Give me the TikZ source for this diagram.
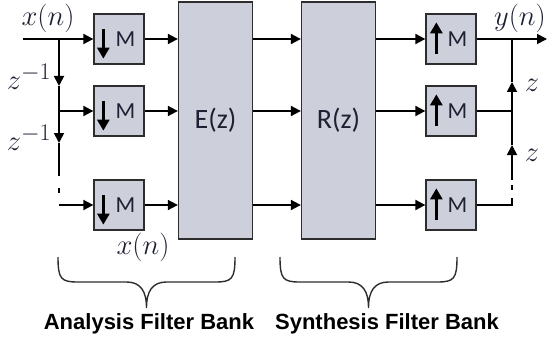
\documentclass[tikz,border=0pt]{standalone}
\usepackage{fontspec}
\newfontfamily\boxfont{Carlito}
\newfontfamily\labelfont{Liberation Sans}
\usetikzlibrary{arrows.meta}
\definecolor{boxfill}{RGB}{205,208,218}
\definecolor{boxline}{RGB}{45,45,45}
\definecolor{ink}{RGB}{30,32,52}
\newcommand{\sigvar}[1]{\scalebox{1.15}{$#1$}}

\begin{document}
\begin{tikzpicture}[x=1pt, y=-1pt]
        \tikzstyle{rate}=[draw=boxline, line width=1.3pt, fill=boxfill, minimum width=50pt, minimum height=50pt, inner sep=0pt, text=ink, font=\boxfont\fontsize{23}{23}\selectfont]
        \tikzstyle{bank}=[draw=boxline, line width=1.3pt, fill=boxfill, minimum width=74pt, minimum height=237pt, inner sep=0pt, text=ink, font=\boxfont\fontsize{28}{28}\selectfont]
        \tikzstyle{wire}=[line width=1.8pt]
        \tikzstyle{sig}=[wire, -{Triangle[length=10pt, width=10pt]}]
        \tikzstyle{tick}=[line width=2.6pt, -{Triangle[length=11pt, width=12pt]}]
        \tikzstyle{var}=[text=ink, inner sep=0pt, font=\fontsize{24.88}{25}\selectfont]
        \tikzstyle{title}=[font=\labelfont\bfseries\fontsize{22}{22}\selectfont]

        \useasboundingbox (0,0) rectangle (553,342);

        \foreach \r/\y in {1/39, 2/111, 3/205} {
            \node[rate] (d\r) at (119,\y) {\hspace*{13pt}M};
            \node[rate] (u\r) at (451,\y) {\hspace*{13pt}M};
            \draw[tick] ([xshift=10pt, yshift=-16pt]d\r.north west) -- ([xshift=10pt, yshift=6pt]d\r.south west);
            \draw[tick] ([xshift=11pt, yshift=11pt]u\r.south west) -- ([xshift=11pt, yshift=-9pt]u\r.north west);
        }
        \node[bank] (E) at (215.5,120.5) {E(z)};
        \node[bank] (R) at (338.5,120.5) {R(z)};

        \coordinate (in)   at (23,39);
        \coordinate (out)  at (547,39);
        \coordinate (tapA) at (59,39);
        \coordinate (tapB) at (59,111);
        \coordinate (tapC) at (59,205);
        \coordinate (la)   at (59,86);
        \coordinate (lb)   at (59,143);
        \coordinate (lc)   at (59,176);
        \coordinate (sumA) at (512,39);
        \coordinate (sumB) at (512,111);
        \coordinate (sumC) at (512,205);
        \coordinate (ra)   at (512,82);
        \coordinate (rb)   at (512,145);
        \coordinate (rc)   at (512,180);

        \draw[sig] (in) -- (d1);
        \draw[sig] (tapB) -- (d2);
        \draw[sig] (tapC) -- (d3);
        \draw[sig] (tapA) -- (la);
        \draw[wire] (la) -- (tapB);
        \draw[sig] (tapB) -- (lb);
        \draw[wire] (lb) -- (lc);
        \draw[wire] (59,188) -- (59,193);

        \foreach \r in {1,2,3} {
            \draw[sig] (d\r) -- (d\r -| E.west);
            \draw[sig] (d\r -| E.east) -- (d\r -| R.west);
            \draw[sig] (d\r -| R.east) -- (u\r);
        }

        \draw[sig] (u1) -- (out);
        \draw[wire] (u2) -- (sumB);
        \draw[wire] (u3) -- (sumC) -- ++(0,-7);
        \draw[sig] (sumB) -- (ra);
        \draw[wire] (ra) -- (sumA);
        \draw[sig] (rc) -- (rb);
        \draw[wire] (rb) -- (sumB);
        \draw[wire] (512,185) -- (512,190);

        \node[var] (xin)  at (48,18)   {\sigvar{x(n)}};
        \node[var] (yout) at (520,18)  {\sigvar{y(n)}};
        \node[var] (zl1)  at (29,77)   {\sigvar{z^{-1}}};
        \node[var] (zl2)  at (29,138)  {\sigvar{z^{-1}}};
        \node[var] (zr1)  at (532,85)  {\sigvar{z}};
        \node[var] (zr2)  at (532,155) {\sigvar{z}};
        \node[var] (xmid) at (143,247) {\sigvar{x(n)}};

        \foreach \a/\b in {58/235, 280/457} {
            \pgfmathsetmacro{\m}{(\a+\b)/2}
            \draw[line width=1.4pt, boxline] (\a,257) .. controls (\a,279) and (\a+3,282) .. (\a+20,282) -- (\m-20,282)
                .. controls (\m-6,282) and (\m,291) .. (\m,308)
                .. controls (\m,291) and (\m+6,282) .. (\m+20,282) -- (\b-20,282)
                .. controls (\b-3,282) and (\b,279) .. (\b,257);
        }
        \node[title] (ana) at (149,324) {Analysis Filter Bank};
        \node[title] (syn) at (387,324) {Synthesis Filter Bank};
    \end{tikzpicture}
\end{document}
